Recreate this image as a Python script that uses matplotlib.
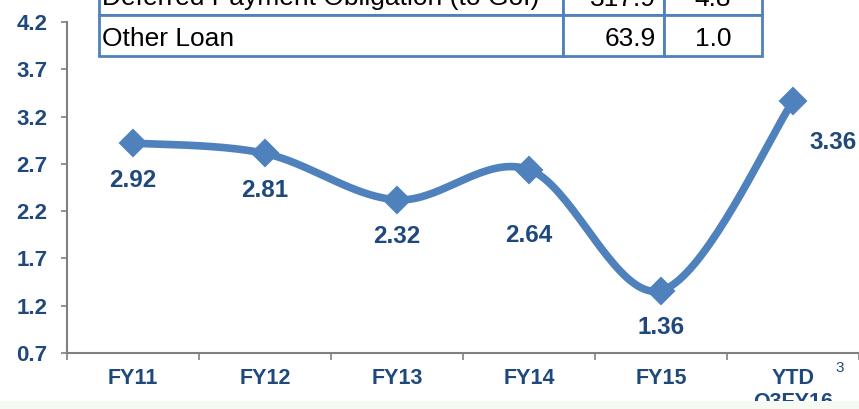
import numpy as np
import matplotlib.pyplot as plt
from matplotlib.patches import Rectangle

# Données
categories = ["FY11", "FY12", "FY13", "FY14", "FY15", "YTD\nQ3FY16"]
valeurs = [2.92, 2.81, 2.32, 2.64, 1.36, 3.36]
y_ticks = [0.7, 1.2, 1.7, 2.2, 2.7, 3.2, 3.7, 4.2]

# tableau en haut (coupé dans l'image d'origine)
lignes_tableau = ["Deferred Payment Obligation (to GoI)", "Other Loan"]
col_montant = ["317.9", "63.9"]
col_ratio = ["4.8", "1.0"]

bleu = "#4F81BD"
marine = "#1F497D"

plt.rcParams["font.family"] = ["Liberation Sans", "DejaVu Sans"]

fig = plt.figure(figsize=(8.59, 4.09), dpi=100)
ax = fig.add_axes([67 / 859, 56 / 409, 1 - 67 / 859, (353 - 22) / 409])


def lissage(y, n=40):
    # courbe lissée façon Excel (Bezier / Catmull-Rom)
    x = np.arange(len(y), dtype=float)
    y = np.asarray(y, dtype=float)
    xs, ys = [], []
    for i in range(len(y) - 1):
        p0 = (x[max(i - 1, 0)], y[max(i - 1, 0)])
        p1 = (x[i], y[i])
        p2 = (x[i + 1], y[i + 1])
        p3 = (x[min(i + 2, len(y) - 1)], y[min(i + 2, len(y) - 1)])
        c1 = (p1[0] + (p2[0] - p0[0]) / 6, p1[1] + (p2[1] - p0[1]) / 6)
        c2 = (p2[0] - (p3[0] - p1[0]) / 6, p2[1] - (p3[1] - p1[1]) / 6)
        t = np.linspace(0, 1, n)
        for k in range(2):
            pts = [p1[k], c1[k], c2[k], p2[k]]
            b = ((1 - t) ** 3 * pts[0] + 3 * (1 - t) ** 2 * t * pts[1]
                 + 3 * (1 - t) * t ** 2 * pts[2] + t ** 3 * pts[3])
            (xs if k == 0 else ys).append(b)
    return np.concatenate(xs), np.concatenate(ys)


xl, yl = lissage(valeurs)
ax.plot(xl, yl, color=bleu, linewidth=5.5, solid_capstyle="round", zorder=2)
ax.plot(range(len(valeurs)), valeurs, linestyle="none", marker="D",
        markersize=13, color=bleu, markeredgecolor=bleu,
        markeredgewidth=1.5, zorder=3)

for i, v in enumerate(valeurs):
    if i == len(valeurs) - 1:
        dx, dy, ha = 16, -41, "left"
    elif i == 3:
        dx, dy, ha = 0, -66, "center"
    else:
        dx, dy, ha = 0, -37, "center"
    ax.annotate(f"{v:.2f}", (i, v), xytext=(dx, dy), textcoords="offset pixels",
                ha=ha, va="center", fontsize=17.5, fontweight="bold", color=marine)

ax.set_xlim(-0.5, len(categories) - 0.5)
ax.set_ylim(0.7, 4.2)
ax.set_yticks(y_ticks)
ax.set_yticklabels([f"{t:.1f}" for t in y_ticks])
ax.set_xticks(range(len(categories)))
ax.set_xticklabels(categories, linespacing=1.2)
ax.set_xticks(np.arange(-0.5, len(categories)), minor=True)

for s in ["top", "right"]:
    ax.spines[s].set_visible(False)
for s in ["left", "bottom"]:
    ax.spines[s].set_color("#808080")
    ax.spines[s].set_linewidth(1.5)

ax.tick_params(axis="y", colors="#808080", length=4, width=1.2, pad=10,
               labelsize=16, labelcolor=marine)
ax.tick_params(axis="x", which="major", length=0, pad=11, labelsize=15.5,
               labelcolor=marine)
ax.tick_params(axis="x", which="minor", colors="#808080", length=5, width=1.2)
for lab in ax.get_xticklabels() + ax.get_yticklabels():
    lab.set_fontweight("bold")

# tableau superposé
x_bords = [99 / 859, 563 / 859, 664 / 859, 762 / 859]
y_lignes = [(409 - 15) / 409, (409 - 56) / 409]
haut_ligne = 41 / 409
for j, y_bas in enumerate(y_lignes):
    for c in range(3):
        fig.patches.append(Rectangle((x_bords[c], y_bas), x_bords[c + 1] - x_bords[c],
                                     haut_ligne, transform=fig.transFigure,
                                     facecolor="white", edgecolor=bleu,
                                     linewidth=2, zorder=5))
    y_txt = y_bas + haut_ligne / 2 - 4 / 409
    fig.text(x_bords[0] + 3 / 859, y_txt, lignes_tableau[j], ha="left", va="center",
             fontsize=19, color="black", zorder=6)
    fig.text(x_bords[2] - 8 / 859, y_txt, col_montant[j], ha="right", va="center",
             fontsize=19, color="black", zorder=6)
    fig.text((x_bords[2] + x_bords[3]) / 2, y_txt, col_ratio[j], ha="center",
             va="center", fontsize=19, color="black", zorder=6)

# numéro de page
fig.text(840 / 859, (409 - 368) / 409, "3", ha="center", va="center",
         fontsize=11, color=marine)

fig.patches.append(Rectangle((0, 0), 1, 8 / 409, transform=fig.transFigure,
                             facecolor="#F5FBF3", edgecolor="none", zorder=0))

fig.savefig("out.png", dpi=100)
